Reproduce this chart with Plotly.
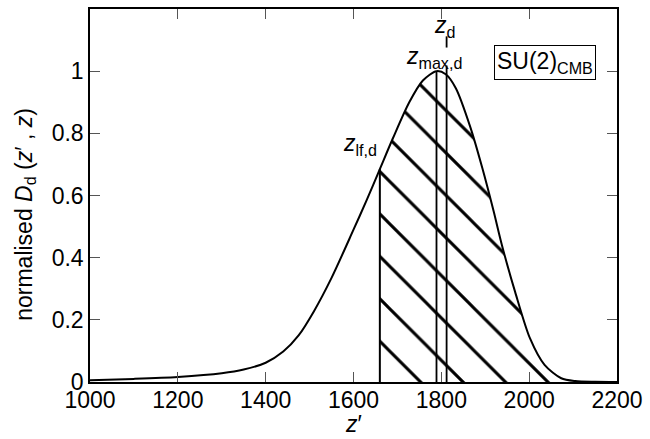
import plotly.graph_objects as go

# ---- data ----
z_prime = [1000, 1100, 1200, 1300, 1350, 1400, 1440, 1475, 1510, 1550, 1600, 1630,
           1660, 1690, 1727, 1758, 1789, 1810, 1833, 1866, 1893, 1919, 1938,
           1968, 2002, 2035, 2073, 2105, 2150, 2200]
D_norm = [0.006, 0.010, 0.016, 0.028, 0.040, 0.062, 0.098, 0.150, 0.228, 0.335, 0.490, 0.585,
          0.685, 0.785, 0.900, 0.970, 1.0, 0.99, 0.945, 0.82, 0.69, 0.55, 0.44,
          0.29, 0.14, 0.055, 0.012, 0.003, 0.0005, 0.0]

z_lf_d = 1660
z_max_d = 1789
z_d = 1812

x_ticks = [1000, 1200, 1400, 1600, 1800, 2000, 2200]
y_ticks = [0, 0.2, 0.4, 0.6, 0.8, 1]
y_tick_text = ["0", "0.2", "0.4", "0.6", "0.8", "1"]

FONT = "Liberation Sans, Arial, sans-serif"

# hatched region: z' >= z_lf_d
hz = [z for z in z_prime if z >= z_lf_d]
hD = [d for z, d in zip(z_prime, D_norm) if z >= z_lf_d]
D_at_lf = D_norm[z_prime.index(z_lf_d)]
D_at_max = D_norm[z_prime.index(z_max_d)]

fig = go.Figure()
fig.add_trace(go.Scatter(
    x=hz, y=hD, mode="lines", line=dict(width=0, shape="spline", smoothing=0.8),
    fill="tozeroy", fillcolor="rgba(0,0,0,0)",
    fillpattern=dict(shape="\\", size=30, solidity=0.1, fgcolor="black",
                     bgcolor="rgba(0,0,0,0)", fillmode="replace"),
    hoverinfo="skip", showlegend=False))
fig.add_trace(go.Scatter(
    x=z_prime, y=D_norm, mode="lines",
    line=dict(color="black", width=2, shape="spline", smoothing=0.8), showlegend=False))

# vertical markers
fig.add_trace(go.Scatter(x=[z_lf_d, z_lf_d], y=[0, D_at_lf], mode="lines",
                         line=dict(color="black", width=2), showlegend=False))
fig.add_trace(go.Scatter(x=[z_max_d, z_max_d], y=[0, D_at_max], mode="lines",
                         line=dict(color="black", width=1.8), showlegend=False))
fig.add_trace(go.Scatter(x=[z_d, z_d], y=[0, 1.018], mode="lines",
                         line=dict(color="black", width=1.8), showlegend=False))
fig.add_trace(go.Scatter(x=[z_d, z_d], y=[1.076, 1.112], mode="lines",
                         line=dict(color="black", width=1.8), showlegend=False))

axis_common = dict(showline=True, linecolor="black", linewidth=1.5, mirror="ticks",
                   ticks="inside", ticklen=10, tickcolor="#555", tickwidth=1,
                   showgrid=False, zeroline=False,
                   tickfont=dict(family=FONT, size=23, color="black"))
fig.update_xaxes(range=[1000, 2200], tickvals=x_ticks, ticklabelstandoff=-3, **axis_common)
fig.update_yaxes(range=[0, 1.2], tickvals=y_ticks, ticktext=y_tick_text, **axis_common)

ann_font = dict(family=FONT, size=23, color="black")
anns = [
    dict(x=z_d - 5, y=1.144, text="<i>z</i><sub>d</sub>"),
    dict(x=z_max_d - 5, y=1.043, text="<i>z</i><sub>max,d</sub>"),
    dict(x=1614, y=0.764, text="<i>z</i><sub>lf,d</sub>"),
]
for a in anns:
    fig.add_annotation(xref="x", yref="y", showarrow=False, font=ann_font,
                       xanchor="center", yanchor="middle", **a)
fig.add_annotation(xref="x", yref="y", x=2036, y=1.027, showarrow=False,
                   text="SU(2)<sub>CMB</sub>", font=ann_font,
                   bordercolor="black", borderwidth=1, borderpad=2, bgcolor="white")
fig.add_annotation(xref="paper", yref="paper", x=0.5, y=-0.149, showarrow=False,
                   text="<i>z</i>′", font=ann_font, xanchor="center", yanchor="bottom",
                   borderpad=0)
fig.add_annotation(xref="paper", yref="paper", x=-0.124, y=0.45, showarrow=False,
                   text="normalised <i>D</i><sub>d</sub> (<i>z</i>′ , <i>z</i>)",
                   textangle=-90, font=ann_font, xanchor="center", yanchor="middle")

fig.update_layout(width=650, height=439, margin=dict(l=90, r=27, t=7, b=57),
                  paper_bgcolor="white", plot_bgcolor="white",
                  font=dict(family=FONT, size=23, color="black"))
fig.write_html("out.html")
